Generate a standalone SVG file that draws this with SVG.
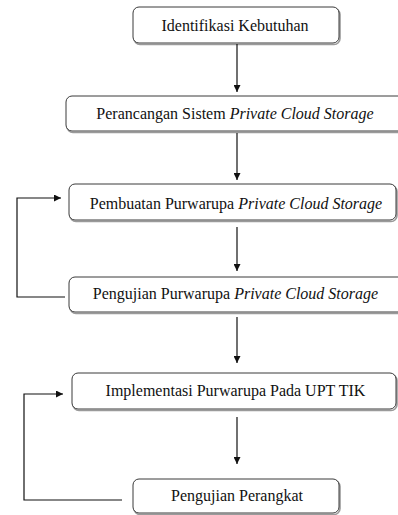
<svg xmlns="http://www.w3.org/2000/svg" width="398" height="515" viewBox="0 0 398 515">
<style>
.sh{fill:none;stroke:#9a9a9a;stroke-width:1.6}
.box{fill:#fff;stroke:#3a3a3a;stroke-width:1}
.lbl{font-family:"Liberation Serif","Times New Roman",serif;font-size:16px;fill:#111;text-anchor:middle}
.c{fill:none;stroke:#111;stroke-width:1.2}
</style>
<defs>
<marker id="ah" viewBox="0 0 10 10" refX="10" refY="5" markerWidth="7" markerHeight="7" markerUnits="userSpaceOnUse" orient="auto">
<path d="M0,0 L10,5 L0,10 z" fill="#111"/>
</marker>
</defs>
<g id="n1"><rect class="sh" x="134" y="8.5" width="206" height="36" rx="6"/><rect class="box" x="133" y="7" width="206" height="36" rx="6"/><text class="lbl" x="235" y="30.5">Identifikasi Kebutuhan</text></g>
<g id="n2"><rect class="sh" x="67" y="97.5" width="340" height="35" rx="6"/><rect class="box" x="66" y="96" width="340" height="35" rx="6"/><text class="lbl" x="235" y="118.5">Perancangan Sistem <tspan font-style="italic">Private Cloud Storage</tspan></text></g>
<g id="n3"><rect class="sh" x="70" y="185.5" width="327" height="36" rx="6"/><rect class="box" x="69" y="184" width="327" height="36" rx="6"/><text class="lbl" x="236" y="208.5">Pembuatan Purwarupa <tspan font-style="italic">Private Cloud Storage</tspan></text></g>
<g id="n4"><rect class="sh" x="70" y="278.5" width="340" height="35" rx="6"/><rect class="box" x="69" y="277" width="340" height="35" rx="6"/><text class="lbl" x="235.5" y="298.5">Pengujian Purwarupa <tspan font-style="italic">Private Cloud Storage</tspan></text></g>
<g id="n5"><rect class="sh" x="73" y="374.5" width="324" height="36" rx="6"/><rect class="box" x="72" y="373" width="324" height="36" rx="6"/><text class="lbl" x="235.5" y="395.5">Implementasi Purwarupa Pada UPT TIK</text></g>
<g id="n6"><rect class="sh" x="134" y="480.5" width="206" height="34" rx="6"/><rect class="box" x="133" y="479" width="206" height="34" rx="6"/><text class="lbl" x="237" y="500.5">Pengujian Perangkat</text></g>
<g id="connectors">
<line class="c" x1="237" y1="44" x2="237" y2="92" marker-end="url(#ah)"/>
<line class="c" x1="237" y1="133" x2="237" y2="180" marker-end="url(#ah)"/>
<line class="c" x1="237" y1="227" x2="237" y2="271" marker-end="url(#ah)"/>
<line class="c" x1="237" y1="317" x2="237" y2="363" marker-end="url(#ah)"/>
<line class="c" x1="237" y1="417" x2="237" y2="464" marker-end="url(#ah)"/>
<polyline class="c" points="65,297 17,297 17,198 61,198" marker-end="url(#ah)"/>
<polyline class="c" points="122,500 24,500 24,394 63,394" marker-end="url(#ah)"/>
</g>
</svg>
